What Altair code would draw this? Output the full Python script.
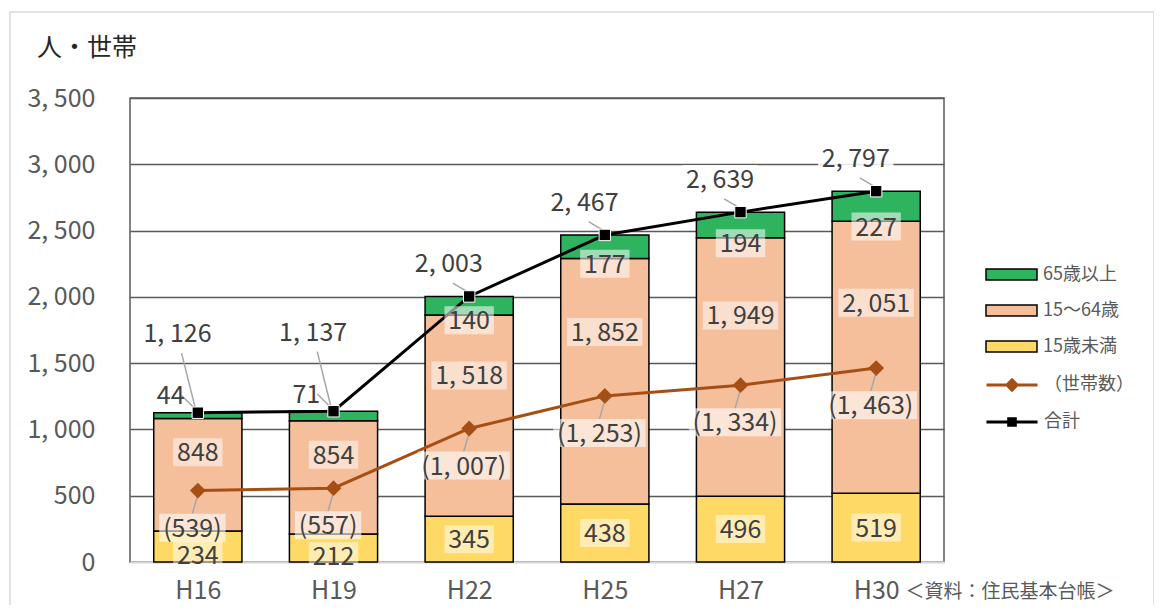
import json
import altair as alt
import pandas as pd

# ---- data ----
categories = ["H16", "H19", "H22", "H25", "H27", "H30"]
under15 = [234, 212, 345, 438, 496, 519]
age15_64 = [848, 854, 1518, 1852, 1949, 2051]
over65 = [44, 71, 140, 177, 194, 227]
totals = [1126, 1137, 2003, 2467, 2639, 2797]
households = [539, 557, 1007, 1253, 1334, 1463]
groups = ["65歳以上", "15〜64歳", "15歳未満"]
series_hh = ["（世帯数）"]
series_tot = ["合計"]
y_ticks = [0, 500, 1000, 1500, 2000, 2500, 3000, 3500]

# ---- styles ----
FONT = "Noto Sans CJK JP, sans-serif"
FS = 25
bar_colors = ["#2EB45E", "#F6BF9C", "#FFD966"]
BROWN = "#A64F14"
TXT = "#404040"
AX = "#595959"


def fmt(v):
    return f"{v:,}".replace(",", ", ")


def text_w(s):
    w = 0.0
    for ch in s:
        if ch.isdigit():
            w += 13.8
        elif ch == ",":
            w += 6.5
        elif ch == " ":
            w += 5.6
        else:
            w += 8.5
    return w + 8


n = len(categories)
wide = pd.DataFrame({
    "cat": categories, "idx": list(range(n)), "u15": under15, "m": age15_64,
    "o65": over65, "total": totals, "hh": households,
})
wide["s_hh"] = series_hh[0]
wide["s_tot"] = series_tot[0]

# long table for stacked bars
rows = []
for i in range(n):
    lo = 0
    for g, v in zip(["15歳未満", "15〜64歳", "65歳以上"], [under15[i], age15_64[i], over65[i]]):
        rows.append({"idx": i, "group": g, "lo": lo, "hi": lo + v})
        lo += v
bars_df = pd.DataFrame(rows)

# label table (positions derived from the values)
lab = []
for i in range(n):
    small = over65[i] < 100
    low_seg = under15[i] < 300
    lab.append({"lx": i, "ly": under15[i] / 2 - (62 if low_seg else 0), "txt": fmt(under15[i]), "op": 0.5})
    lab.append({"lx": i, "ly": under15[i] + 0.7 * age15_64[i], "txt": fmt(age15_64[i]), "op": 0.5})
    if small:
        lab.append({"lx": i - 0.2, "ly": totals[i] + 130, "txt": fmt(over65[i]), "op": 0.0})
    else:
        lab.append({"lx": i, "ly": under15[i] + age15_64[i] - 40, "txt": fmt(over65[i]), "op": 0.55})
    lab.append({"lx": i - 0.15, "ly": totals[i] + (600 if small else 250), "txt": fmt(totals[i]), "op": 0.85})
    lab.append({"lx": i - 0.04, "ly": households[i] - 280, "txt": "(" + fmt(households[i]) + ")", "op": 0.6})
lab_df = pd.DataFrame(lab)
lab_df["W"] = lab_df["txt"].map(text_w)
lab_df["sz"] = lab_df["W"] ** 2
lab_df["path"] = lab_df["W"].map(lambda w: f"M-1,-{28 / w:.4f}H1V{28 / w:.4f}H-1Z")

# leader lines
lead = []
for i in range(n):
    small = over65[i] < 100
    ty = totals[i] + (600 if small else 250)
    lead.append({"a": i - 0.12, "b": ty - 150, "a2": i - 0.02, "b2": totals[i] + 40})
    if small:
        lead.append({"a": i - 0.12, "b": totals[i] + 130, "a2": i - 0.03, "b2": totals[i] + 40})
    lead.append({"a": i, "b": households[i] - 30, "a2": i - 0.04, "b2": households[i] - 175})
lead_df = pd.DataFrame(lead)

# ---- scales / axes ----
xs = alt.Scale(domain=[-0.5, n - 0.5], nice=False, zero=False)
ys = alt.Scale(domain=[0, 3500], nice=False)
label_expr = json.dumps(categories) + "[datum.value]"

x_axis = alt.Axis(
    values=list(range(n)), labelExpr=label_expr, grid=False, ticks=False,
    domainColor="#D9D9D9", domainWidth=2, labelFontSize=FS, labelFont=FONT,
    labelColor=AX, labelPadding=16, labelFlush=False,
    title="＜資料：住民基本台帳＞", titleX=775, titleY=29, titleAlign="left",
    titleBaseline="middle", titleFontSize=19, titleFont=FONT,
    titleFontWeight="normal", titleColor=AX, titleAngle=0,
)
y_axis = alt.Axis(
    values=y_ticks, labelExpr="replace(format(datum.value, ','), ',', ', ')",
    grid=True, gridWidth=1.3,
    gridColor={"condition": {"test": "datum.value == 0", "value": "#D9D9D9"}, "value": AX},
    domain=False, ticks=False, labelFontSize=FS, labelFont=FONT, labelColor=AX,
    labelPadding=35, labelOverlap=False, title=None,
)


def X(f):
    return alt.X(f, scale=xs, axis=x_axis)


def Y(f):
    return alt.Y(f, scale=ys, axis=y_axis)


# ---- layers ----
frame = alt.Chart(pd.DataFrame({"k": [0]})).mark_rect(
    fillOpacity=0, stroke="#D9D9D9", strokeWidth=1.5
).encode(x=alt.value(-120), x2=alt.value(1024), y=alt.value(-86), y2=alt.value(520))

bar_legend = alt.Legend(
    orient="none", legendX=855, legendY=150, title=None, labelFontSize=18,
    labelFont=FONT, labelColor=AX, symbolType="M-1,-0.22H1V0.22H-1Z",
    symbolSize=2601, symbolStrokeColor="black", symbolStrokeWidth=1.5,
    symbolOpacity=1, rowPadding=-14, labelOffset=5, padding=0,
)
bars = alt.Chart(bars_df).transform_calculate(
    x0="datum.idx - 0.325", x1="datum.idx + 0.325"
).mark_bar(stroke="black", strokeWidth=1.5).encode(
    x=X("x0:Q"), x2="x1:Q", y=Y("lo:Q"), y2="hi:Q",
    color=alt.Color("group:N", scale=alt.Scale(domain=groups, range=bar_colors), legend=bar_legend),
)

leaders = alt.Chart(lead_df).mark_rule(color="#A6A6A6", strokeWidth=1.5).encode(
    x=X("a:Q"), x2="a2:Q", y=Y("b:Q"), y2="b2:Q",
)

base = alt.Chart(wide)
hh_line = base.mark_line(color=BROWN, strokeWidth=3).encode(x=X("idx:Q"), y=Y("hh:Q"))
tot_line = base.mark_line(color="black", strokeWidth=3).encode(x=X("idx:Q"), y=Y("total:Q"))
hh_pts = base.mark_point(shape="diamond", size=250, filled=True, fill=BROWN, opacity=1).encode(
    x=X("idx:Q"), y=Y("hh:Q"))
tot_pts = base.mark_point(shape="square", size=130, filled=True, fill="black",
                          stroke="white", strokeWidth=1, opacity=1).encode(
    x=X("idx:Q"), y=Y("total:Q"))

# legend-only layers (invisible marks)
hh_legend = alt.Legend(
    orient="none", legendX=855, legendY=260, title=None, labelFontSize=18,
    labelFont=FONT, labelColor=AX, symbolSize=2601, symbolStrokeWidth=3,
    symbolType="M-1,0H1M0,-0.2L0.2,0L0,0.2L-0.2,0Z", symbolStrokeColor=BROWN,
    labelOffset=5, padding=0,
)
tot_legend = alt.Legend(
    orient="none", legendX=855, legendY=297, title=None, labelFontSize=18,
    labelFont=FONT, labelColor=AX, symbolSize=2601, symbolStrokeWidth=3,
    symbolType="M-1,0H1M-0.13,-0.13H0.13V0.13H-0.13Z", symbolFillColor="black",
    labelOffset=5, padding=0,
)
hh_leg_layer = base.mark_point(filled=True, opacity=0, size=10).encode(
    x=X("idx:Q"), y=Y("hh:Q"),
    color=alt.Color("s_hh:N", scale=alt.Scale(domain=series_hh, range=[BROWN]), legend=hh_legend),
)
tot_leg_layer = base.mark_point(filled=True, fill="black", opacity=0, size=10).encode(
    x=X("idx:Q"), y=Y("total:Q"),
    stroke=alt.Stroke("s_tot:N", scale=alt.Scale(domain=series_tot, range=["black"]), legend=tot_legend),
)

boxes = alt.Chart(lab_df).mark_point(filled=True, fill="white", strokeWidth=0).encode(
    x=X("lx:Q"), y=Y("ly:Q"),
    shape=alt.Shape("path:N", scale=None), size=alt.Size("sz:Q", scale=None),
    opacity=alt.Opacity("op:Q", scale=None),
)
labels = alt.Chart(lab_df).mark_text(
    font=FONT, fontSize=FS, color=TXT, align="center", baseline="middle", dy=1
).encode(x=X("lx:Q"), y=Y("ly:Q"), text="txt:N")

chart = alt.layer(
    frame, bars, leaders, hh_line, tot_line, hh_pts, tot_pts,
    hh_leg_layer, tot_leg_layer, boxes, labels
).resolve_scale(color="independent").properties(
    width=814, height=464,
    autosize=alt.AutoSizeParams(type="none"),
    padding={"left": 122, "top": 90, "right": 210, "bottom": 43},
    title=alt.TitleParams("人・世帯", anchor="start", fontSize=25, font=FONT,
                          fontWeight="normal", color="#262626", dx=-93, dy=50, offset=0,
                          frame="group"),
).configure_view(stroke=AX, strokeWidth=1.5)

chart.save("out.html", embed_options={"renderer": "svg", "actions": False})
